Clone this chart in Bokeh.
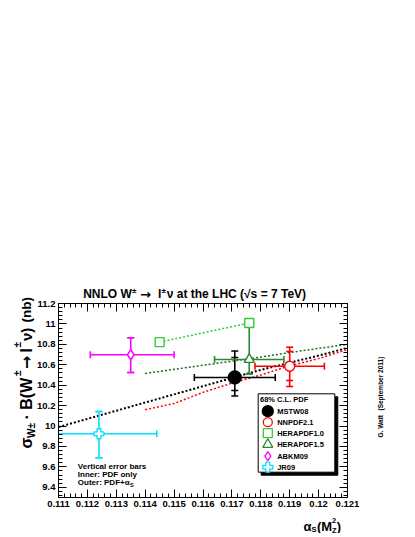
from math import pi
import numpy as np
from bokeh.plotting import figure
from bokeh.models import LinearAxis, FixedTicker, Label, Range1d
from bokeh.embed import file_html
from bokeh.resources import INLINE

# ---------------- data ----------------
pdf_names = ["MSTW08", "NNPDF2.1", "HERAPDF1.0", "HERAPDF1.5", "ABKM09", "JR09"]

# points with error bars
pt_names = ["MSTW08", "NNPDF2.1", "HERAPDF1.5", "ABKM09", "JR09"]
pt_alphas = [0.1171, 0.1190, 0.1176, 0.1135, 0.1124]
pt_alphas_lo = [0.1157, 0.1178, 0.1164, 0.1121, 0.1104]
pt_alphas_hi = [0.1185, 0.1202, 0.1188, 0.1150, 0.1144]
pt_sigma = [10.475, 10.586, 10.652, 10.698, 9.924]
pt_pdf_lo = [10.348, 10.446, 10.511, 10.524, 9.689]      # inner: PDF only
pt_pdf_hi = [10.671, 10.730, 11.014, 10.864, 10.142]
pt_tot_lo = [10.294, 10.387, 10.511, 10.524, 9.689]      # outer: PDF+alpha_S
pt_tot_hi = [10.735, 10.772, 11.014, 10.864, 10.142]

# HERAPDF1.0 points (two alpha_S values)
hera10_alphas = [0.1145, 0.1176]
hera10_sigma = [10.822, 11.009]

# cross section vs alpha_S curves
mstw_alphas = [0.111, 0.112, 0.113, 0.114, 0.115, 0.116, 0.117, 0.118, 0.119, 0.120, 0.121]
mstw_curve = [9.99, 10.07, 10.15, 10.23, 10.31, 10.39, 10.47, 10.55, 10.62, 10.69, 10.765]
nnpdf_alphas = [0.114, 0.115, 0.116, 0.117, 0.118, 0.119, 0.120, 0.121]
nnpdf_curve = [10.16, 10.22, 10.33, 10.42, 10.50, 10.59, 10.66, 10.75]
hera15_alphas = [0.114, 0.115, 0.116, 0.117, 0.118, 0.119, 0.120, 0.121]
hera15_curve = [10.515, 10.555, 10.595, 10.635, 10.675, 10.72, 10.76, 10.80]

x_ticks = [0.111, 0.112, 0.113, 0.114, 0.115, 0.116, 0.117, 0.118, 0.119, 0.120, 0.121]
x_tick_labels = ["0.111", "0.112", "0.113", "0.114", "0.115", "0.116", "0.117",
                 "0.118", "0.119", "0.12", "0.121"]
y_ticks = [9.4, 9.6, 9.8, 10.0, 10.2, 10.4, 10.6, 10.8, 11.0, 11.2]
y_tick_labels = ["9.4", "9.6", "9.8", "10", "10.2", "10.4", "10.6", "10.8", "11", "11.2"]

# ---------------- styles ----------------
colors = {"MSTW08": "#000000", "NNPDF2.1": "#ff0000", "HERAPDF1.0": "#33cc33",
          "HERAPDF1.5": "#2e862e", "ABKM09": "#ff00ff", "JR09": "#00e0ff"}
markers = {"MSTW08": "circle", "NNPDF2.1": "circle", "HERAPDF1.0": "square",
           "HERAPDF1.5": "triangle", "ABKM09": "diamond", "JR09": "plus"}
sizes = {"MSTW08": 13, "NNPDF2.1": 10, "HERAPDF1.0": 9,
         "HERAPDF1.5": 10, "ABKM09": 10, "JR09": 10}
leg_sizes = {"MSTW08": 11, "NNPDF2.1": 9, "HERAPDF1.0": 9,
             "HERAPDF1.5": 10, "ABKM09": 9, "JR09": 10}
FONT = "Liberation Sans"
ARROW_FONT = "DejaVu Sans"

# ---------------- layout (page pixels; the canvas starts at the page corner) ----------------
W, H = 413, 533
AX_L, AX_R, AX_T, AX_B = 58, 347, 303, 497   # axes box
X_MIN, X_MAX = 0.111, 0.121
Y_MIN, Y_MAX = 9.3, 11.2
SX = (X_MAX - X_MIN) / (AX_R - AX_L)
SY = (Y_MAX - Y_MIN) / (AX_B - AX_T)


def X(px):  # page pixel -> data x
    return X_MIN + (px - AX_L) * SX


def Y(py):  # page pixel -> data y
    return Y_MAX - (py - AX_T) * SY


p = figure(width=W, height=H,
           x_range=Range1d(X(0), X(W)), y_range=Range1d(Y(H), Y(0)),
           output_backend="svg", toolbar_location=None,
           x_axis_location=None, y_axis_location=None,
           min_border_left=0, min_border_right=0, min_border_top=0, min_border_bottom=0)
p.xgrid.visible = False
p.ygrid.visible = False
p.outline_line_color = None
p.background_fill_color = "white"
p.border_fill_color = "white"

x_minor = [round(v, 5) for v in np.arange(X_MIN, X_MAX + 1e-9, 0.0002)]
y_minor = [round(v, 3) for v in np.arange(9.32, Y_MAX + 1e-9, 0.04)]


def make_axis(place, ticks, minor, labels, show, loc, bounds):
    ax = LinearAxis(fixed_location=loc, bounds=bounds,
                    ticker=FixedTicker(ticks=ticks, minor_ticks=minor))
    ax.axis_line_color = "black"
    ax.axis_line_width = 1
    ax.major_tick_line_color = "black"
    ax.minor_tick_line_color = "black"
    ax.major_tick_in = 8
    ax.major_tick_out = 0
    ax.minor_tick_in = 4
    ax.minor_tick_out = 0
    ax.major_label_standoff = 3
    ax.major_label_text_font = FONT
    ax.major_label_text_font_style = "bold"
    ax.major_label_text_color = "black"
    ax.major_label_text_font_size = "9.5px"
    if show:
        ax.major_label_overrides = {t: l for t, l in zip(ticks, labels)}
    else:
        ax.major_label_overrides = {t: "" for t in ticks}
    p.add_layout(ax, place)


make_axis("below", x_ticks, x_minor, x_tick_labels, True, Y_MIN, (X_MIN, X_MAX))
make_axis("above", x_ticks, x_minor, x_tick_labels, False, Y_MAX, (X_MIN, X_MAX))
make_axis("left", y_ticks, y_minor, y_tick_labels, True, X_MIN, (Y_MIN, Y_MAX))
make_axis("right", y_ticks, y_minor, y_tick_labels, False, X_MAX, (Y_MIN, Y_MAX))

# ---------------- curves ----------------
p.line(mstw_alphas, mstw_curve, line_color=colors["MSTW08"], line_width=2, line_dash="2 2")
p.line(nnpdf_alphas, nnpdf_curve, line_color=colors["NNPDF2.1"], line_width=1.5, line_dash="2 2")
p.line(hera15_alphas, hera15_curve, line_color="#1f6f1f", line_width=1.5, line_dash="2 2")
p.line(hera10_alphas, hera10_sigma, line_color=colors["HERAPDF1.0"], line_width=1.5, line_dash="2 2")

# ---------------- error bars (clipped to the axes box like the original) ----------------
pt_colors = [colors[n] for n in pt_names]
h_lo = [max(v, X_MIN) for v in pt_alphas_lo]
h_hi = [min(v, X_MAX) for v in pt_alphas_hi]
p.segment(x0=pt_alphas, y0=pt_tot_lo, x1=pt_alphas, y1=pt_tot_hi, line_color=pt_colors, line_width=1.6)
p.segment(x0=h_lo, y0=pt_sigma, x1=h_hi, y1=pt_sigma, line_color=pt_colors, line_width=1.6)
p.scatter(x=pt_alphas * 4, y=pt_tot_lo + pt_tot_hi + pt_pdf_lo + pt_pdf_hi, marker="dash",
          size=7, line_color=pt_colors * 4, line_width=1.6)
cap_x = [v for v in pt_alphas_lo + pt_alphas_hi if X_MIN <= v <= X_MAX]
cap_y = [s for v, s in zip(pt_alphas_lo + pt_alphas_hi, pt_sigma * 2) if X_MIN <= v <= X_MAX]
cap_c = [c for v, c in zip(pt_alphas_lo + pt_alphas_hi, pt_colors * 2) if X_MIN <= v <= X_MAX]
p.scatter(x=cap_x, y=cap_y, marker="dash", angle=pi / 2, size=7, line_color=cap_c, line_width=1.6)

# ---------------- markers ----------------
for n, a, s in zip(pt_names, pt_alphas, pt_sigma):
    fill = colors[n] if n == "MSTW08" else "white"
    p.scatter(x=[a], y=[s], marker=markers[n], size=sizes[n], line_color=colors[n],
              fill_color=fill, line_width=1.4)
p.scatter(x=hera10_alphas, y=hera10_sigma, marker="square", size=sizes["HERAPDF1.0"],
          line_color=colors["HERAPDF1.0"], fill_color="white", line_width=1.4)

# ---------------- legend (drawn by hand) ----------------
LX0, LX1, LY0, LY1 = 257.7, 334.3, 393.3, 471.7
p.quad(left=[X(LX0 + 3)], right=[X(LX1 + 3)], top=[Y(LY0 + 3)], bottom=[Y(LY1 + 3)],
       fill_color="black", line_color="black")
p.quad(left=[X(LX0)], right=[X(LX1)], top=[Y(LY0)], bottom=[Y(LY1)],
       fill_color="white", line_color="black", line_width=1)
leg_y = [410.7, 421.7, 432.7, 444.0, 455.7, 466.7]
for n, ly in zip(pdf_names, leg_y):
    fill = colors[n] if n == "MSTW08" else "white"
    p.scatter(x=[X(267.3)], y=[Y(ly)], marker=markers[n], size=leg_sizes[n],
              line_color=colors[n], fill_color=fill, line_width=1.3)


def label(text, px, py, size, align="left", baseline="middle", angle=0.0, style="bold",
          font=FONT):
    p.add_layout(Label(x=X(px), y=Y(py), text=text, text_font=font,
                       text_font_size=f"{size}px", text_font_style=style,
                       text_align=align, text_baseline=baseline, angle=angle,
                       text_color="black"))


label("68% C.L. PDF", 259.5, 398.7, 7.5)
for n, ly in zip(pdf_names, leg_y):
    label(n, 276.7, ly, 7.5)

# ---------------- title (pieces, with raised +- signs) ----------------
label("NNLO W", 82.7, 293.5, 12, baseline="alphabetic")
label("\u00b1", 131.6, 289.5, 8, baseline="alphabetic")
label("\u2192", 139.5, 293.5, 13, baseline="alphabetic", font=ARROW_FONT)
label("l", 157.5, 293.5, 12, baseline="alphabetic")
label("\u00b1", 161.0, 289.5, 8, baseline="alphabetic")
label("\u03bd at the LHC (\u221as = 7 TeV)", 166.2, 293.5, 12, baseline="alphabetic")

label("Vertical error bars", 77.3, 465.7, 8)
label("Inner: PDF only", 77.3, 474.0, 8)
label("Outer: PDF+\u03b1", 77.3, 482.3, 8)
label("S", 129.5, 484.5, 5.5)

# y-axis title (rotated pieces, reading upwards)
A = pi / 2
label("\u03c3", 26, 448, 16, baseline="alphabetic", angle=A)
label("W\u00b1", 31, 437.5, 10, baseline="alphabetic", angle=A)
label("\u00b7 B(W", 26, 419, 16, baseline="alphabetic", angle=A)
label("\u00b1", 17, 375.5, 10, baseline="alphabetic", angle=A)
label("\u2192", 26, 368.5, 16, baseline="alphabetic", angle=A, font=ARROW_FONT)
label("l", 26, 352, 16, baseline="alphabetic", angle=A)
label("\u00b1", 17, 347, 10, baseline="alphabetic", angle=A)
label("\u03bd)", 26, 340.5, 15, baseline="alphabetic", angle=A)
label("(nb)", 26, 322, 13.5, baseline="alphabetic", angle=A)

# x-axis title pieces
label("\u03b1", 303, 526, 13, baseline="alphabetic")
label("S", 311, 529, 7.5, baseline="alphabetic")
label("(M", 316.5, 526, 13, baseline="alphabetic")
label("2", 331.5, 520, 7.5, baseline="alphabetic")
label("Z", 331.5, 529.5, 7.5, baseline="alphabetic")
label(")", 336.2, 526, 13, baseline="alphabetic")

# author stamp
label("G. Watt", 380, 437, 6.5, baseline="alphabetic", angle=A)
label("(September 2011)", 380, 410, 6.5, baseline="alphabetic", angle=A)

open("out.html", "w").write(file_html(p, INLINE))
